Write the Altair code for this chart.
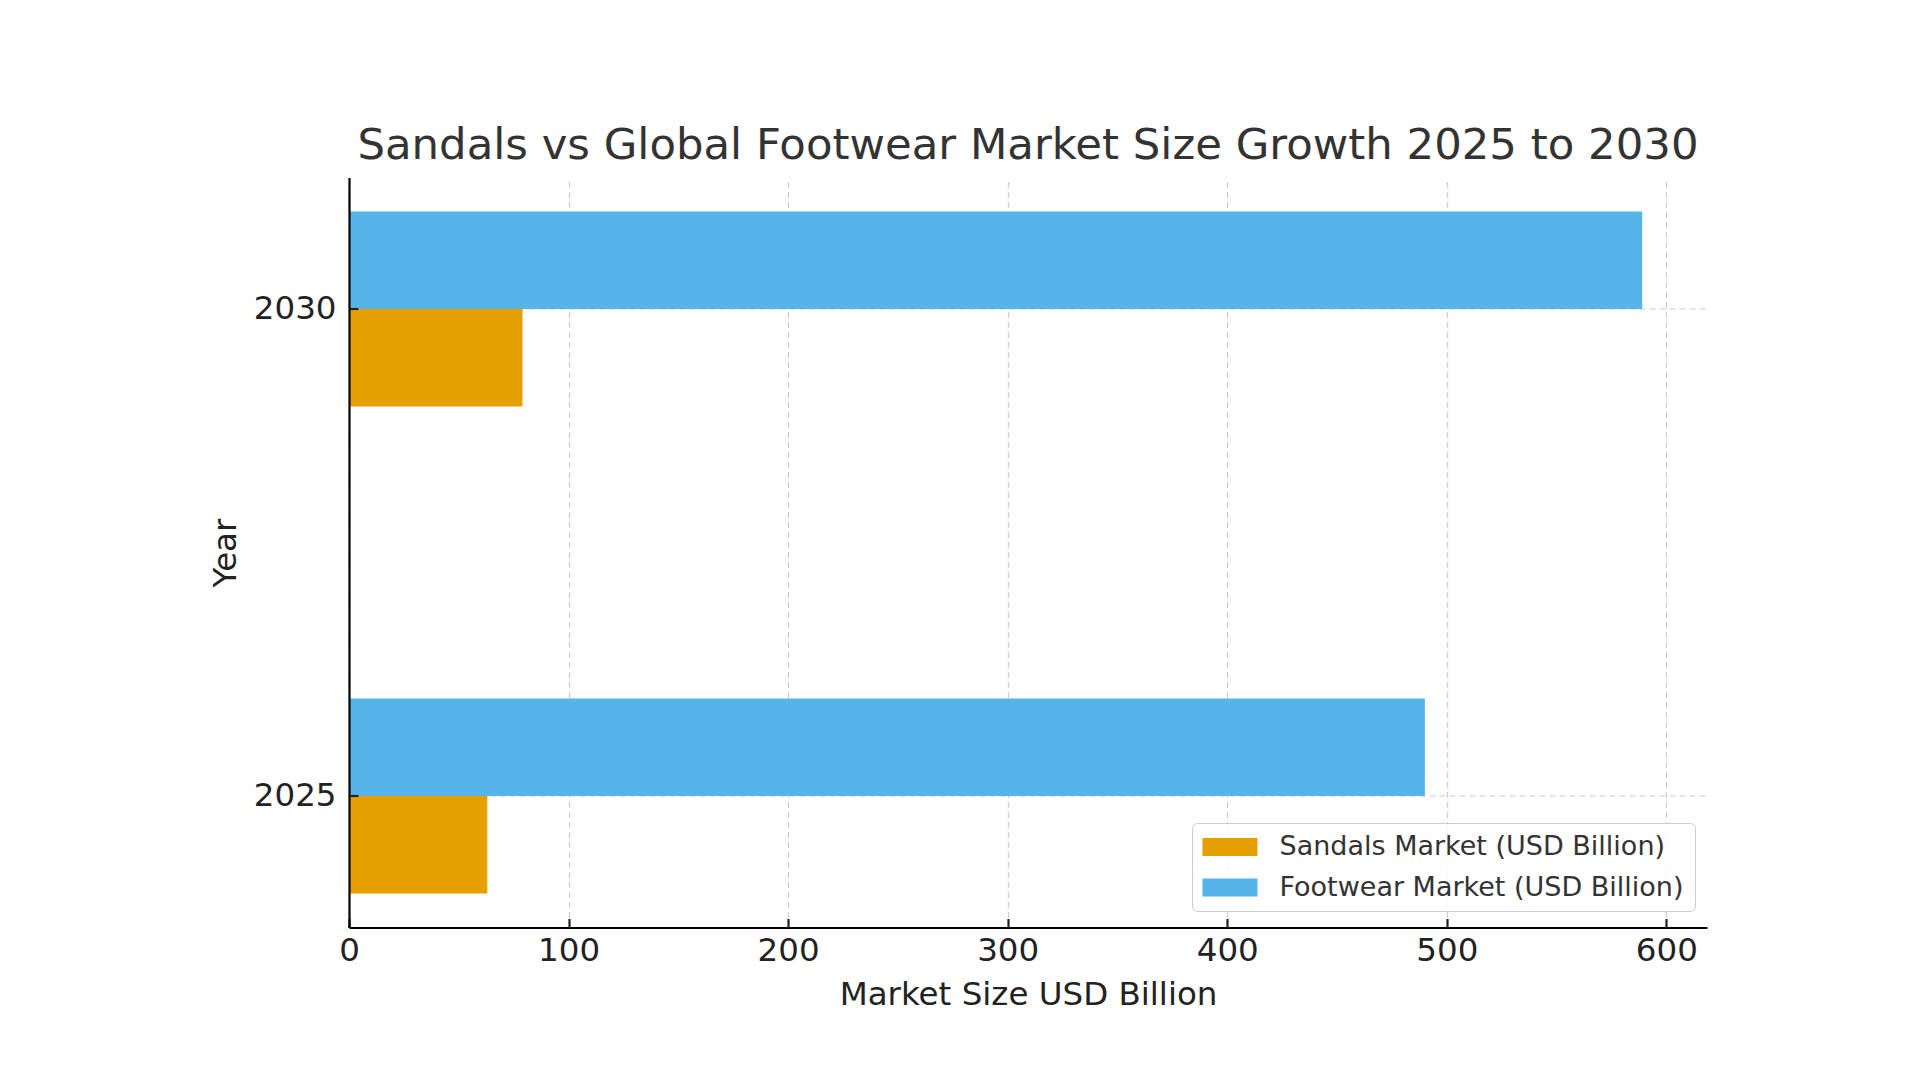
import altair as alt
import pandas as pd

# ---- data ----
years = ["2025", "2030"]
sandals = [63, 79]
footwear = [490, 589]
series = ["Sandals Market (USD Billion)", "Footwear Market (USD Billion)"]
colors = ["#E69F00", "#56B4E9"]
x_ticks = [0, 100, 200, 300, 400, 500, 600]

rows = []
for i, yr in enumerate(years):
    rows.append({"Year": yr, "Series": series[0], "Value": sandals[i]})
    rows.append({"Year": yr, "Series": series[1], "Value": footwear[i]})
df = pd.DataFrame(rows)

W, H = 1358, 750
FONT = "DejaVu Sans"
GRID = "#cccccc"
INK = "#222222"
FS = 32.5

x_scale = alt.Scale(domain=[0, 618.5], nice=False, zero=True)
y_scale = alt.Scale(domain=["2030", "2025"], paddingInner=0.6, paddingOuter=0.07)

base = alt.Chart(df)

# layer 0: bars + grid (behind marks)
bars = base.mark_bar().encode(
    x=alt.X("Value:Q", scale=x_scale,
            axis=alt.Axis(orient="bottom", values=x_ticks, grid=True, domain=False,
                          labels=False, ticks=False, title=None,
                          gridColor=GRID, gridDash=[6, 4], gridWidth=1.2, zindex=0)),
    y=alt.Y("Year:N", scale=y_scale,
            axis=alt.Axis(orient="left", grid=True, domain=False, labels=False,
                          ticks=False, title=None, gridColor=GRID, gridDash=[6, 4],
                          gridWidth=1.2, zindex=0)),
    yOffset=alt.YOffset("Series:N",
                        scale=alt.Scale(domain=[series[1], series[0]],
                                        paddingInner=0, paddingOuter=0)),
    color=alt.Color("Series:N", scale=alt.Scale(domain=series, range=colors),
                    legend=alt.Legend(
                        orient="none", legendX=843, legendY=645.5, title=None,
                        padding=10.5, rowPadding=12.5,
                        symbolType="M-1,-0.667H3.074V0.667H-1Z",
                        symbolSize=729, symbolStrokeWidth=0, symbolOpacity=1,
                        labelFont=FONT, labelFontSize=27, labelColor="#333333",
                        labelOffset=50, labelLimit=0,
                        strokeColor="#cccccc", cornerRadius=5,
                        fillColor="rgba(255,255,255,0.85)")),
)

# layer 1: spines, labels and titles (in front of marks)
axes_main = base.mark_bar(opacity=0).encode(
    x=alt.X("Value:Q", scale=x_scale,
            axis=alt.Axis(orient="bottom", values=x_ticks, grid=False, ticks=False,
                          domain=True, domainColor="#000000", domainWidth=2.2,
                          labelFont=FONT, labelFontSize=FS, labelColor=INK,
                          labelPadding=7, labelFlush=False,
                          title="Market Size USD Billion", titleFont=FONT,
                          titleFontSize=FS, titleFontWeight="normal", titleColor=INK,
                          titleBaseline="alphabetic", titleY=77, zindex=1)),
    y=alt.Y("Year:N", scale=y_scale,
            axis=alt.Axis(orient="left", grid=False, ticks=False, domain=True,
                          domainColor="#000000", domainWidth=2.2,
                          labelFont=FONT, labelFontSize=FS, labelColor=INK,
                          labelPadding=13, title="Year", titleFont=FONT,
                          titleFontSize=FS, titleFontWeight="normal", titleColor=INK,
                          titleBaseline="alphabetic", titleX=-114, zindex=1)),
)

# layer 2: inward tick marks
axes_ticks = base.mark_bar(opacity=0).encode(
    x=alt.X("Value:Q", scale=x_scale,
            axis=alt.Axis(orient="bottom", values=x_ticks, grid=False, labels=False,
                          domain=False, ticks=True, tickSize=9, tickWidth=2.2,
                          tickColor=INK, offset=-9, title=None, zindex=1)),
    y=alt.Y("Year:N", scale=y_scale,
            axis=alt.Axis(orient="left", grid=False, labels=False, domain=False,
                          ticks=True, tickSize=9, tickWidth=2.2, tickColor=INK,
                          offset=-9, title=None, zindex=1)),
)

chart = alt.layer(bars, axes_main, axes_ticks).resolve_axis(
    x="independent", y="independent"
).properties(
    width=W, height=H,
    autosize="none",
    padding={"left": 341, "top": 169.5, "right": 150, "bottom": 140},
    title=alt.TitleParams(
        text="Sandals vs Global Footwear Market Size Growth 2025 to 2030",
        font=FONT, fontSize=43.4, fontWeight="normal", color="#333333",
        anchor="middle", frame="group", baseline="alphabetic", offset=15.5, dy=40),
).configure_view(stroke=None)

chart.save("out.html", embed_options={"renderer": "svg", "actions": False})
